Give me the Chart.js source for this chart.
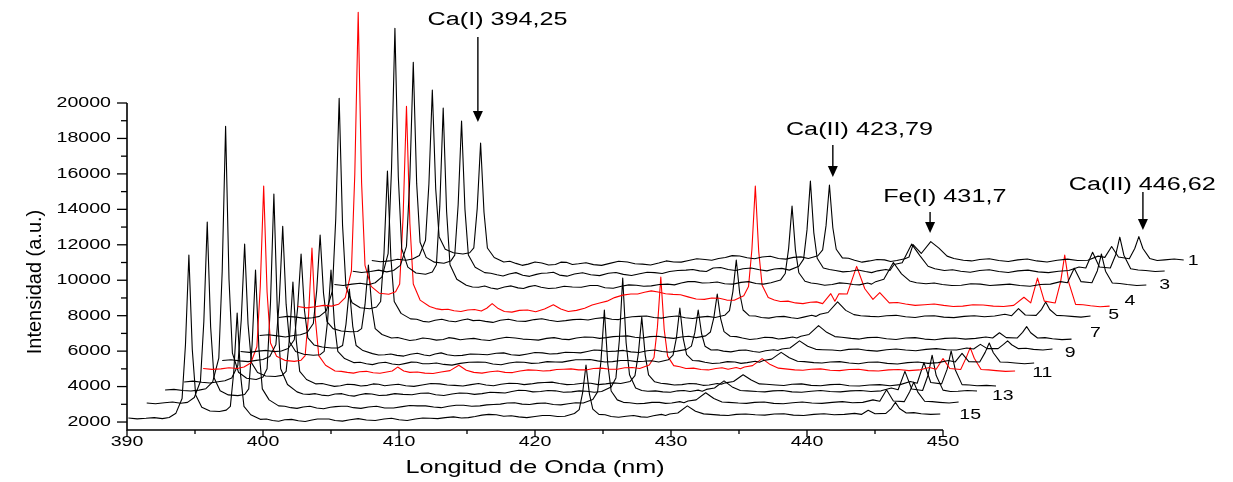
<!DOCTYPE html>
<html>
<head>
<meta charset="utf-8">
<script src="https://cdn.jsdelivr.net/npm/chart.js@4.4.1/dist/chart.umd.min.js"></script>
<style>
  html, body { margin: 0; padding: 0; background: #fff; }
  canvas { display: block; }
</style>
</head>
<body>
<canvas id="chart" width="1233" height="482"></canvas>
<script>
// Shared wavelength grid (nm) of the spectra, before the waterfall shift
const nm = [390.1, 390.75, 391.4, 392.0, 392.6, 393.1, 393.6,
  394.05, 394.3, 394.55, 394.8, 395.05, 395.5, 396.1, 396.8, 397.3, 397.6, 397.85, 398.1, 398.35, 398.6, 399.1, 399.8,
  400.25, 400.7, 401.15, 401.6, 402.1, 402.6, 403.1, 403.6, 404.0, 404.4, 404.85, 405.3, 405.85, 406.4, 407.0, 407.6, 408.25, 408.9,
  409.45, 410.0, 410.6, 411.2, 411.75, 412.3, 412.85, 413.4, 414.0, 414.6, 415.1, 415.6, 416.1, 416.6, 417.15, 417.7, 418.25, 418.8,
  419.4, 420.0, 420.55, 421.1, 421.65, 422.2,
  422.9, 423.25, 423.5, 423.75, 424.0, 424.25, 424.7,
  425.15, 425.6, 426.15, 426.7, 427.25, 427.8, 428.25, 428.7,
  429.3, 429.6, 429.9, 430.5, 431.2, 431.8, 432.4, 432.9, 433.6,
  434.2, 434.8, 435.5, 436.2, 436.9, 437.6, 438.3, 439.0, 439.75, 440.5, 441.25, 442.0, 442.75,
  443.5, 444.0, 444.5, 445.0, 445.8, 446.2, 446.5, 446.8, 447.3,
  447.85, 448.4, 449.1, 449.8];

// Waterfall offsets of each spectrum (back to front)
const xShift = [17.9, 16.5, 15.15, 12.45, 11.05, 9.65, 8.25, 6.9, 5.5, 4.1, 2.7, 1.35, 0];
const yShift = [10410, 9790, 9060, 7820, 7200, 6180, 5280, 4770, 4320, 3590, 3020, 2290, 1610];

// Intensities (a.u.) of the 13 spectra on the grid above, back to front
const t01 = [700,630,680,770,720,790,990,
  1850,5030,10320,4740,2050,1340,1140,1070,1140,1410,3630,7330,3430,1410,870,620,
  660,540,430,500,620,560,450,480,610,600,480,520,580,470,430,540,660,620,520,500,450,560,680,620,610,700,800,760,720,820,870,980,960,860,800,900,940,820,780,880,910,820,
  970,1300,2670,4960,2550,1340,850,
  830,720,610,680,760,740,650,700,
  800,900,1600,1100,1770,1400,950,820,720,
  680,760,800,700,650,740,790,680,620,720,780,700,720,
  950,880,1490,900,800,1380,2050,1380,820,
  700,740,790,730];
const t02 = [720,650,700,780,680,760,1050,
  2120,6010,12510,5660,2350,1500,1230,1170,1290,1630,4470,9190,4210,1630,940,640,
  600,520,450,560,640,490,430,540,600,620,660,500,440,560,630,520,470,600,650,540,480,580,660,640,590,700,760,780,820,740,700,900,930,820,760,860,900,800,740,840,880,780,
  1000,1400,3050,5800,2900,1450,900,
  820,760,680,720,790,700,640,740,
  820,760,1100,1200,2250,1600,1000,860,760,
  800,720,660,760,800,700,650,740,780,680,640,720,760,
  960,900,1790,960,900,1650,2640,1620,860,
  790,760,700,730];
const t03 = [700,640,720,770,690,800,1130,
  2440,7210,15160,6770,2720,1680,1350,1280,1410,1810,5120,10650,4820,1810,1000,660,
  560,540,610,500,440,560,620,510,470,580,640,540,470,500,600,560,540,640,640,520,490,600,680,660,600,620,700,720,680,780,860,860,780,800,840,740,720,820,860,760,720,800,
  950,1320,2740,5120,2640,1360,880,
  780,740,660,700,790,760,700,680,
  780,720,860,1000,1940,1300,900,800,740,
  780,700,640,660,740,720,640,680,720,640,600,700,720,
  860,800,1620,860,800,1480,2420,1450,780,
  760,700,640,670];
const t04 = [700,620,680,760,720,820,1200,
  2700,8170,17300,7670,3020,1830,1450,1390,1530,1970,5730,12000,5390,1970,1060,700,
  580,520,540,460,420,500,530,440,600,860,580,420,380,480,500,400,560,800,560,420,480,600,780,900,1000,1200,1340,1400,1400,1500,1580,1520,1420,1380,1360,1240,1120,1100,1180,1160,1060,1050,
  1300,1820,3930,7490,3800,1900,1200,
  1060,980,1000,900,860,940,960,860,
  1420,1000,1420,1400,2960,1700,1100,1480,900,
  920,840,760,800,840,760,700,720,800,780,720,700,760,
  1220,900,2300,1000,900,2100,3600,2050,820,
  800,740,680,720];
const t05 = [700,760,720,650,680,760,1070,
  2180,6270,13070,5900,2430,1530,1250,1190,1290,1600,4360,8960,4110,1600,930,620,
  600,480,440,540,600,500,460,560,610,520,540,480,420,540,600,500,480,580,630,540,470,520,580,600,560,640,690,600,580,680,740,760,780,700,660,740,780,680,640,720,760,700,
  820,1090,2160,3940,2080,1120,800,
  780,700,660,740,760,680,640,720,
  820,760,880,980,1580,1100,860,800,760,
  740,800,820,740,700,780,800,720,690,760,800,740,780,
  880,800,1200,840,820,1160,1570,1150,820,
  800,760,720,780];
const t06 = [700,740,680,620,700,740,870,
  1380,3250,6370,3080,1490,1090,960,910,930,1090,2440,4680,2310,1090,760,560,
  590,500,420,460,560,520,440,480,580,540,460,500,540,460,420,520,600,560,500,480,440,540,580,500,470,560,620,600,540,580,640,660,680,600,560,640,660,580,540,620,660,580,
  680,900,1710,3040,1660,920,660,
  640,560,480,520,600,580,500,540,
  620,560,660,760,1260,880,640,600,540,
  500,580,600,520,480,560,580,500,460,540,560,500,540,
  620,560,860,580,560,880,1200,860,560,
  580,520,470,500];
const t07 = [700,650,720,760,690,730,865,
  1360,3180,6200,3010,1470,1070,950,895,905,1035,2230,4220,2120,1035,750,580,
  500,520,560,480,440,540,600,500,460,560,620,520,460,480,560,540,520,600,620,520,480,560,640,620,560,580,660,640,620,700,780,760,700,720,760,680,640,740,780,700,660,720,
  820,1000,1760,3040,1700,1000,780,
  800,720,680,760,780,700,660,740,
  800,760,840,900,1300,1000,820,800,780,
  740,820,840,760,720,800,840,780,740,820,860,800,780,
  900,840,1100,860,860,1100,1300,1080,860,
  880,820,780,840];
const t08 = [700,740,680,640,710,760,930,
  1610,4110,8280,3880,1760,1210,1050,1000,1030,1220,2940,5800,2780,1220,810,580,
  600,520,470,560,600,500,460,540,610,600,520,520,560,480,440,540,600,620,600,500,460,560,620,600,540,560,640,620,610,680,740,740,760,680,620,640,700,700,640,660,690,620,
  740,1000,1990,3660,1930,1030,700,
  680,600,530,560,640,620,540,580,
  660,600,700,780,1160,860,660,640,580,
  560,620,640,560,520,600,620,540,500,580,620,540,580,
  700,620,1100,640,620,1160,1690,1140,620,
  600,560,520,560];
const t09 = [700,650,680,740,700,780,1010,
  1930,5330,10990,5020,2140,1390,1160,1100,1170,1430,3720,7490,3490,1430,880,560,
  540,480,440,520,540,460,430,500,560,780,560,480,500,440,420,500,580,880,600,480,440,520,560,480,470,560,620,600,560,580,640,660,680,620,620,700,720,660,660,740,760,700,
  900,1320,3020,5860,2900,1400,860,
  800,700,720,640,620,700,740,660,
  760,680,780,860,1260,920,720,680,620,
  600,660,680,600,580,640,660,580,560,620,640,580,620,
  760,660,1260,700,640,1300,1880,1280,640,
  620,580,540,560];
const t10 = [670,720,650,610,680,740,900,
  1600,4170,8450,3940,1760,1200,1010,980,1040,1270,3160,6310,2990,1270,810,560,
  580,500,420,460,540,520,440,480,560,540,460,500,540,460,420,500,580,560,500,480,440,520,580,500,460,540,600,580,520,560,620,640,660,580,520,540,600,600,520,560,620,580,
  700,1030,2270,4330,2200,1070,680,
  600,560,500,520,580,560,480,500,
  580,540,620,700,1080,780,560,540,500,
  470,540,560,480,460,520,540,460,440,500,520,460,520,
  700,600,1760,640,560,1380,2420,1360,520,
  500,460,480,440];
const t11 = [790,820,760,730,780,860,1240,
  2580,7490,15670,7040,2870,1790,1450,1380,1520,1990,5690,11840,5350,1990,1100,680,
  560,540,580,500,460,560,580,480,440,520,580,560,480,500,580,540,520,600,620,520,480,560,620,600,540,580,660,640,620,700,770,760,680,700,760,740,660,680,740,720,660,700,
  960,1470,3580,7100,3450,1650,900,
  760,720,740,680,660,740,760,700,
  780,720,820,900,1300,960,760,740,700,
  680,740,760,680,660,720,760,700,680,740,760,700,740,
  900,800,1840,840,760,1620,2750,1600,780,
  700,720,760,730];
const t12 = [780,740,800,840,770,820,1090,
  2010,5380,10990,5070,2210,1470,1240,1200,1260,1580,4090,8280,3860,1580,960,620,
  600,520,480,560,600,500,460,540,580,600,600,520,480,560,600,500,500,580,640,620,620,560,520,600,660,660,600,620,680,700,720,780,800,720,700,760,780,700,680,740,800,780,
  980,1410,3140,6030,3000,1460,960,
  820,800,740,760,820,820,760,780,
  860,800,900,960,1360,1040,840,820,780,
  760,820,840,760,740,800,840,780,760,820,860,800,820,
  960,880,1530,900,860,1420,1960,1400,880,
  860,820,780,840];
const t13 = [620,570,600,640,580,650,890,
  1720,4760,9810,4480,1910,1230,1010,980,1060,1270,3230,6540,3050,1270,800,540,
  560,480,430,520,540,460,420,500,560,560,560,480,440,520,580,500,480,560,600,520,480,560,620,600,580,640,680,620,640,700,780,820,800,720,740,680,640,700,760,760,700,720,
  870,1090,2030,3600,1980,1120,820,
  800,700,660,720,760,680,660,740,
  820,760,840,900,1300,1000,850,820,780,
  760,820,840,800,780,840,860,780,760,820,860,800,820,
  880,820,1050,860,880,1150,1500,1150,900,
  920,860,820,840];

// Axis tick values
const xTicks = [390, 400, 410, 420, 430, 440, 450];
const yTicks = [2000, 4000, 6000, 8000, 10000, 12000, 14000, 16000, 18000, 20000];

// Sample tags written at the end of the traces
const sampleTags = ['1', '3', '4', '5', '7', '9', '11', '13', '15'];

// Line annotations
const lineNames = ['Ca(I) 394,25', 'Ca(II) 423,79', 'Fe(I) 431,7', 'Ca(II) 446,62'];

// ---------------------------------------------------------------------------
const traces = [t01, t02, t03, t04, t05, t06, t07, t08, t09, t10, t11, t12, t13];
const redTraces = new Set([3, 8]);

// tag anchors (nm, a.u.)
const tagPos = [[468.4, 11085], [466.3, 9731], [463.75, 8828], [462.55, 8038], [461.2, 7023],
  [459.35, 5894], [457.3, 4766], [454.4, 3468], [452.0, 2396]];

// annotation layout: text anchor (left, middle) and arrow x, tail, tip (nm, a.u.)
const notePos = [
  { tx: 412.1, ty: 24680, ax: 415.8, a0: 23720, a1: 18930 },
  { tx: 438.45, ty: 18480, ax: 441.9, a0: 17630, a1: 15820 },
  { tx: 445.6, ty: 14700, ax: 449.05, a0: 13850, a1: 12670 },
  { tx: 459.25, ty: 15370, ax: 464.7, a0: 14980, a1: 12830 }
];

const SX = 1.4; // horizontal stretch of the lettering
const FONT = '"Liberation Sans", Arial, Helvetica, sans-serif';

function text(ctx, str, x, y, size, align, opts = {}) {
  ctx.save();
  ctx.translate(x, y);
  ctx.scale(opts.sx ?? SX, 1);
  if (opts.rot) ctx.rotate(opts.rot);
  ctx.font = `${size}px ${opts.family || FONT}`;
  ctx.textAlign = align;
  ctx.textBaseline = 'middle';
  ctx.fillStyle = '#000';
  ctx.fillText(str, 0, 0);
  ctx.restore();
}

const frame = {
  id: 'frame',
  afterDraw(chart) {
    const { ctx, chartArea: a } = chart;
    const xs = chart.scales.x, ys = chart.scales.y;
    ctx.save();
    ctx.strokeStyle = '#000';
    ctx.lineCap = 'butt';

    // axis lines
    ctx.lineWidth = 1.6;
    ctx.beginPath();
    ctx.moveTo(a.left, a.top);
    ctx.lineTo(a.left, a.bottom);
    ctx.lineTo(a.right, a.bottom);
    ctx.stroke();

    // y ticks and labels
    ctx.lineWidth = 1.3;
    yTicks.forEach((v, i) => {
      const p = ys.getPixelForValue(v);
      ctx.beginPath(); ctx.moveTo(a.left - 10, p); ctx.lineTo(a.left, p); ctx.stroke();
      text(ctx, String(v), a.left - 16, p, 14, 'right');
      if (i < yTicks.length - 1) {
        const m = ys.getPixelForValue((v + yTicks[i + 1]) / 2);
        ctx.beginPath(); ctx.moveTo(a.left - 6, m); ctx.lineTo(a.left, m); ctx.stroke();
      }
    });

    // x ticks and labels
    xTicks.forEach((v, i) => {
      const p = xs.getPixelForValue(v);
      ctx.beginPath(); ctx.moveTo(p, a.bottom); ctx.lineTo(p, a.bottom + 7); ctx.stroke();
      text(ctx, String(v), p, a.bottom + 12, 14, 'center');
      if (i < xTicks.length - 1) {
        const m = xs.getPixelForValue((v + xTicks[i + 1]) / 2);
        ctx.beginPath(); ctx.moveTo(m, a.bottom); ctx.lineTo(m, a.bottom + 4); ctx.stroke();
      }
    });

    // axis titles
    text(ctx, 'Longitud de Onda (nm)', (a.left + a.right) / 2, a.bottom + 38, 18, 'center');
    text(ctx, 'Intensidad (a.u.)', 35, 282, 20, 'center',
      { sx: 1, rot: -Math.PI / 2, family: '"Liberation Sans Narrow", "Arial Narrow", sans-serif' });

    // sample tags
    sampleTags.forEach((t, i) => {
      text(ctx, t, xs.getPixelForValue(tagPos[i][0]), ys.getPixelForValue(tagPos[i][1]), 15, 'center', { sx: 1.3 });
    });

    // line annotations with arrows
    lineNames.forEach((t, i) => {
      const n = notePos[i];
      text(ctx, t, xs.getPixelForValue(n.tx), ys.getPixelForValue(n.ty), 18, 'left');
      const x = xs.getPixelForValue(n.ax);
      const y0 = ys.getPixelForValue(n.a0), y1 = ys.getPixelForValue(n.a1);
      ctx.lineWidth = 1.4;
      ctx.beginPath(); ctx.moveTo(x, y0); ctx.lineTo(x, y1 - 8); ctx.stroke();
      ctx.beginPath();
      ctx.moveTo(x - 5, y1 - 11); ctx.lineTo(x + 5, y1 - 11); ctx.lineTo(x, y1); ctx.closePath();
      ctx.fillStyle = '#000'; ctx.fill();
    });
    ctx.restore();
  }
};

const datasets = traces.map((vals, s) => {
  const n = Math.min(nm.length, vals.length);
  const pts = [];
  for (let i = 0; i < n; i++) pts.push({ x: nm[i] + xShift[s], y: vals[i] + yShift[s] });
  return {
    data: pts,
    borderColor: redTraces.has(s) ? '#ff0000' : '#000000',
    borderWidth: 1.1,
    pointRadius: 0,
    tension: 0,
    borderJoinStyle: 'round',
    clip: false,
    fill: false
  };
});

// fixed axis ranges set after the data limits, so every trace is drawn in full
const fixRange = (lo, hi) => (scale) => { scale.min = lo; scale.max = hi; };

new Chart(document.getElementById('chart'), {
  type: 'line',
  data: { datasets },
  options: {
    responsive: false,
    animation: false,
    devicePixelRatio: 1,
    layout: { padding: { left: 127, top: 103, right: 290, bottom: 52 } },
    scales: {
      x: { type: 'linear', display: false, bounds: 'data', afterDataLimits: fixRange(390, 450) },
      y: { type: 'linear', display: false, bounds: 'data', beginAtZero: false, afterDataLimits: fixRange(1550, 20000) }
    },
    plugins: { legend: { display: false }, tooltip: { enabled: false } }
  },
  plugins: [frame]
});
</script>
</body>
</html>
